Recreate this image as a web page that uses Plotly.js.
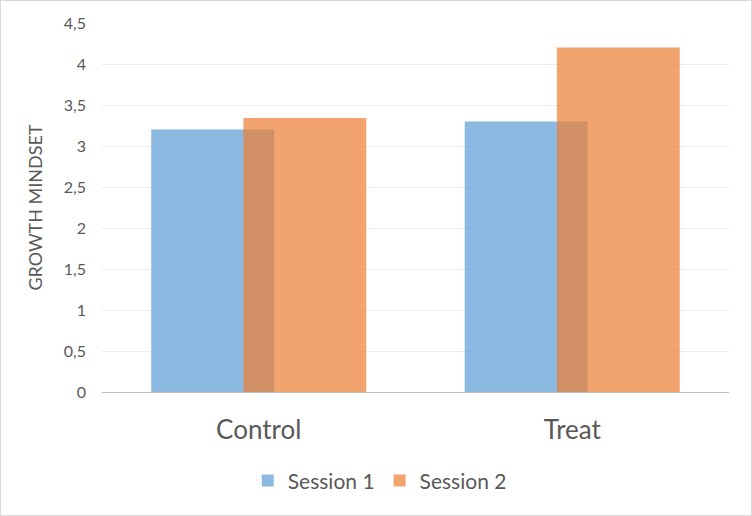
<!DOCTYPE html>
<html>
<head>
<meta charset="utf-8">
<script src="https://cdn.plot.ly/plotly-3.0.1.min.js"></script>
<style>
html,body{margin:0;padding:0;background:#fff;}
#chart{width:750px;height:514px;border:1px solid #D9D9D9;}
</style>
</head>
<body>
<div id="chart"></div>
<script>
const categories = ["Control", "Treat"];
const session1 = [3.2, 3.3];
const session2 = [3.34, 4.2];
const seriesNames = ["Session 1", "Session 2"];

const font = "Lato, 'Open Sans', sans-serif";
const traces = [
  {type:"bar", x:categories, y:session1, name:seriesNames[0],
   marker:{color:"rgba(91,155,213,0.7)", line:{width:0}},
   width:0.392, offset:-0.343, hoverinfo:"skip"},
  {type:"bar", x:categories, y:session2, name:seriesNames[1],
   marker:{color:"rgba(237,125,49,0.7)", line:{width:0}},
   width:0.392, offset:-0.049, hoverinfo:"skip"}
];
const layout = {
  width:750, height:514,
  margin:{l:101, r:22, t:22, b:123},
  paper_bgcolor:"#fff", plot_bgcolor:"#fff",
  separators:",.",
  barmode:"overlay",
  showlegend:true,
  legend:{orientation:"h", x:0.443, xanchor:"center", y:-0.185, yanchor:"top",
    font:{family:font, size:21, color:"#595959"}, traceorder:"normal", itemwidth:30},
  font:{family:font, color:"#595959"},
  xaxis:{type:"category", showgrid:false, zeroline:false, showline:false,
    ticks:"", ticklabelstandoff:20, tickfont:{family:font, size:26, color:"#595959"}},
  yaxis:{range:[0,4.5], dtick:0.5, showgrid:true, gridcolor:"#EDEDED", gridwidth:1,
    zeroline:true, zerolinecolor:"#BFBFBF", zerolinewidth:1,
    ticks:"", ticklabelstandoff:15, tickfont:{family:font, size:16, color:"#595959"},
    title:{text:"GROWTH MINDSET", standoff:16, font:{family:font, size:18, color:"#595959"}}}
};
Plotly.newPlot("chart", traces, layout, {displayModeBar:false, staticPlot:true});
</script>
</body>
</html>
